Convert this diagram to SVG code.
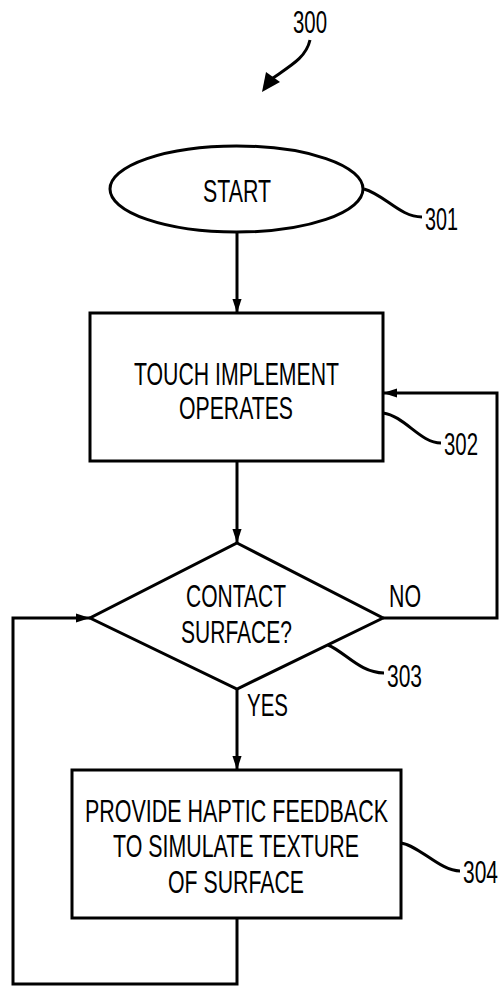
<svg xmlns="http://www.w3.org/2000/svg" width="500" height="986" viewBox="0 0 500 986">
<defs>
<style>
.s{fill:none;stroke:#000;stroke-width:3}
.n{fill:#fff;stroke:#000;stroke-width:3}
text{font-family:"Liberation Sans",Arial,sans-serif;font-size:31px;fill:#000}
</style>
<marker id="ah" markerWidth="14" markerHeight="20" refX="20" refY="6.5" orient="auto" markerUnits="userSpaceOnUse" viewBox="0 0 20 13">
<path d="M0,0 L20,6.5 L0,13 Z" fill="#000"/>
</marker>
</defs>
<rect width="500" height="986" fill="#fff"/>
<g id="label-300">
<text x="293" y="33" textLength="34" lengthAdjust="spacingAndGlyphs">300</text>
<path class="s" d="M310,40 C306,58 290,66 270,80"/>
<polygon points="262,92 266,72 280,82" fill="#000"/>
</g>
<g id="connectors">
<line class="s" x1="237" y1="232" x2="237" y2="313" marker-end="url(#ah)"/>
<line class="s" x1="237" y1="461" x2="237" y2="543" marker-end="url(#ah)"/>
<polyline class="s" points="383,618 497,618 497,393 383,393" marker-end="url(#ah)"/>
<line class="s" x1="237" y1="689" x2="237" y2="770" marker-end="url(#ah)"/>
<polyline class="s" points="237,918 237,984 13,984 13,618 90,618" marker-end="url(#ah)"/>
<text x="389" y="607" textLength="32" lengthAdjust="spacingAndGlyphs">NO</text>
<text x="247" y="716" textLength="41" lengthAdjust="spacingAndGlyphs">YES</text>
</g>
<g id="n301">
<ellipse class="n" cx="236.5" cy="189" rx="126.5" ry="43"/>
<text x="203" y="202" textLength="68" lengthAdjust="spacingAndGlyphs">START</text>
<path class="s" d="M364,189 C385,195 400,217 422,217"/>
<text x="425" y="230" textLength="33" lengthAdjust="spacingAndGlyphs">301</text>
</g>
<g id="n302">
<rect class="n" x="90" y="313" width="293" height="148"/>
<text x="134" y="385" textLength="205" lengthAdjust="spacingAndGlyphs">TOUCH IMPLEMENT</text>
<text x="179" y="419" textLength="114" lengthAdjust="spacingAndGlyphs">OPERATES</text>
<path class="s" d="M383,413 C405,416 420,443 441,443"/>
<text x="444" y="455" textLength="34" lengthAdjust="spacingAndGlyphs">302</text>
</g>
<g id="n303">
<polygon class="n" points="237,543 383,618 237,689 90,618"/>
<text x="186" y="607" textLength="100" lengthAdjust="spacingAndGlyphs">CONTACT</text>
<text x="181" y="643" textLength="111" lengthAdjust="spacingAndGlyphs">SURFACE?</text>
<path class="s" d="M328,645 C345,652 360,673 384,673"/>
<text x="387" y="687" textLength="35" lengthAdjust="spacingAndGlyphs">303</text>
</g>
<g id="n304">
<rect class="n" x="72" y="770" width="329" height="148"/>
<text x="85" y="822" textLength="303" lengthAdjust="spacingAndGlyphs">PROVIDE HAPTIC FEEDBACK</text>
<text x="113" y="857" textLength="246" lengthAdjust="spacingAndGlyphs">TO SIMULATE TEXTURE</text>
<text x="168" y="893" textLength="136" lengthAdjust="spacingAndGlyphs">OF SURFACE</text>
<path class="s" d="M401,843 C420,846 440,871 460,871"/>
<text x="463" y="883" textLength="35" lengthAdjust="spacingAndGlyphs">304</text>
</g>
</svg>
